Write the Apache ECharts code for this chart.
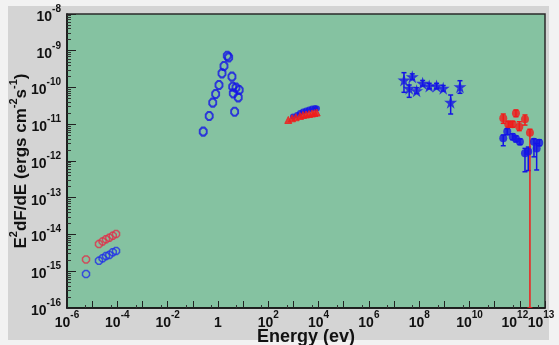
<!DOCTYPE html>
<html>
<head>
<meta charset="utf-8">
<script src="https://cdn.jsdelivr.net/npm/echarts@6/dist/echarts.min.js"></script>
<style>
  html, body { margin: 0; padding: 0; background: #f2f2f2; }
  #chart { width: 559px; height: 345px; }
</style>
</head>
<body>
<div id="chart"></div>
<script>
// radio
const radioX = [5.7e-6, 1.87e-5, 2.6e-5, 3.55e-5, 4.8e-5, 6.6e-5, 8.9e-5];
const radioRedY = [2.1e-15, 5.5e-15, 6.5e-15, 7.4e-15, 8.2e-15, 9.3e-15, 1.03e-14];
const radioBlueY = [8.4e-16, 1.94e-15, 2.25e-15, 2.6e-15, 2.77e-15, 3.3e-15, 3.56e-15];

// optical / UV
const optX = [0.26, 0.45, 0.62, 0.81, 1.1, 1.45, 1.74, 2.35, 2.67, 3.6, 3.85, 5.2, 7.0, 4.07, 6.4, 4.6];
const optY = [6.3e-12, 1.68e-11, 3.86e-11, 6.65e-11, 1.17e-10, 2.43e-10, 3.85e-10, 7.3e-10, 6.6e-10,
              1.97e-10, 1.05e-10, 9.9e-11, 8.55e-11, 6.95e-11, 5.4e-11, 2.19e-11];

// x-ray
const xrayRedX = [625, 877, 1230, 1824, 2400, 3155, 4150, 5470, 6870, 8400];
const xrayRedY = [1.31e-11, 1.45e-11, 1.55e-11, 1.68e-11, 1.79e-11, 1.84e-11, 1.9e-11, 1.96e-11, 2.02e-11, 2.09e-11];
const xrayBlueX = [960, 1384, 1824, 2400, 3155, 4150, 5470, 7190, 8630];
const xrayBlueY = [1.63e-11, 1.79e-11, 2.02e-11, 2.22e-11, 2.37e-11, 2.52e-11, 2.68e-11, 2.77e-11, 2.68e-11];

// gamma (GeV)
const fermiX = [2.48e7, 5.3e7, 4.0e7, 7.9e7, 1.37e8, 2.5e8, 4.9e8, 9.0e8, 1.78e9, 4.17e9];
const fermiY = [1.6e-10, 1.97e-10, 9.5e-11, 8.2e-11, 1.3e-10, 1.1e-10, 1.1e-10, 9.5e-11, 3.95e-11, 1.05e-10];
const fermiLo = [7.4e-11, 1.65e-10, 5.4e-11, 6.9e-11, 1.1e-10, 9.2e-11, 9.2e-11, 8e-11, 1.9e-11, 6.95e-11];
const fermiHi = [2.53e-10, 2.35e-10, 1.17e-10, 9.8e-11, 1.55e-10, 1.3e-10, 1.3e-10, 1.13e-10, 6.25e-11, 1.53e-10];

// TeV
const tevRedX = [2.19e11, 7.0e11, 3.47e11, 5.2e11, 9.5e11, 1.6e12, 2.52e12];
const tevRedY = [1.45e-11, 1.99e-11, 9.97e-12, 9.97e-12, 8.6e-12, 1.36e-11, 5.9e-12];
const tevRedLo = [1.06e-11, 1.6e-11, 8.3e-12, 8.3e-12, 6.7e-12, 9.5e-12, 1e-16];
const tevRedHi = [1.9e-11, 2.44e-11, 1.2e-11, 1.2e-11, 1.17e-11, 1.79e-11, 7.3e-12];
const tevBlueX = [2.19e11, 3.16e11, 5.2e11, 7.0e11, 1.01e12, 1.6e12, 2.16e12, 3.64e12, 5.9e12, 4.66e12];
const tevBlueY = [4.15e-12, 6.3e-12, 4.6e-12, 4.0e-12, 3.35e-12, 1.62e-12, 1.8e-12, 3.35e-12, 3.15e-12, 2.2e-12];
const tevBlueLo = [2.6e-12, 5.2e-12, 3.8e-12, 3.3e-12, 2.8e-12, 5.1e-13, 5.5e-13, 1.3e-12, 2.6e-12, 5.7e-13];
const tevBlueHi = [5.1e-12, 7.6e-12, 5.5e-12, 4.8e-12, 4.0e-12, 2.2e-12, 2.4e-12, 4.0e-12, 3.8e-12, 3.0e-12];

// axis labels (exponents shown); the last one sits on its own overlay axis
const xLabelExp = [-6, -4, -2, 0, 2, 4, 6, 8, 10, 12];
const xLastExp = 13;

const BLUE = '#1414e6';
const RED = '#f01c1c';
const STAR = 'path://M50,0 L61,35 L98,35 L68,57 L79,91 L50,70 L21,91 L32,57 L2,35 L39,35 Z';
const OCT = 'path://M30,0 L70,0 L100,30 L100,70 L70,100 L30,100 L0,70 L0,30 Z';
const FONT = '"Liberation Sans", Arial, sans-serif';

const pts = (xs, ys) => xs.map((x, i) => [x, ys[i]]);

function errBars(xs, ys, lo, hi, color) {
  return {
    type: 'custom',
    clip: true,
    z: 1,
    data: xs.map((x, i) => [x, ys[i], lo[i], hi[i]]),
    encode: { x: 0, y: 1 },
    renderItem: function (params, api) {
      const a = api.coord([api.value(0), api.value(2)]);
      const b = api.coord([api.value(0), api.value(3)]);
      const st = { stroke: color, lineWidth: 1.5 };
      return {
        type: 'group',
        children: [
          { type: 'line', shape: { x1: a[0], y1: a[1], x2: b[0], y2: b[1] }, style: st },
          { type: 'line', shape: { x1: a[0] - 2.5, y1: a[1], x2: a[0] + 2.5, y2: a[1] }, style: st },
          { type: 'line', shape: { x1: b[0] - 2.5, y1: b[1], x2: b[0] + 2.5, y2: b[1] }, style: st }
        ]
      };
    }
  };
}

function expOf(v) { return Math.round(Math.log10(v)); }

function expLabel(v) {
  const e = expOf(v);
  if (e === 0) return '{b|1}';
  return '{b|10}{s|' + e + '}';
}

const richLab = {
  b: { fontSize: 14, fontWeight: 'bold', fontFamily: FONT, color: '#111', lineHeight: 20, verticalAlign: 'bottom' },
  s: { fontSize: 10, fontWeight: 'bold', fontFamily: FONT, color: '#111', lineHeight: 20, verticalAlign: 'top' },
  p10: { width: 10 },
  p8: { width: 8 }
};

const logX = { type: 'log', logBase: 10, min: 1e-6, max: 1e13, interval: 1 };

const chart = echarts.init(document.getElementById('chart'));
chart.setOption({
  animation: false,
  backgroundColor: '#f2f2f2',
  graphic: [
    { type: 'rect', shape: { x: 8, y: 6, width: 541, height: 334 }, style: { fill: '#d4d4d4' }, z: -10 }
  ],
  grid: {
    left: 67, right: 14, top: 14, bottom: 37,
    outerBoundsMode: 'none',
    containLabel: false,
    show: true,
    backgroundColor: '#85c2a1',
    borderColor: '#2a2a2a',
    borderWidth: 1.5
  },
  xAxis: [
    Object.assign({}, logX, {
      name: 'Energy (ev)',
      nameLocation: 'middle',
      nameGap: 20,
      nameMoveOverlap: false,
      nameTextStyle: { fontSize: 18, fontWeight: 'bold', fontFamily: FONT, color: '#111' },
      axisLine: { lineStyle: { color: '#111', width: 1.5 } },
      axisTick: { inside: true, length: 7, lineStyle: { color: '#222' } },
      minorTick: { show: true, splitNumber: 2, length: 3, lineStyle: { color: '#333' } },
      splitLine: { show: false },
      axisLabel: {
        margin: 2,
        interval: 0,
        hideOverlap: false,
        showMinLabel: true,
        formatter: function (v) {
          const e = expOf(v);
          if (xLabelExp.indexOf(e) < 0) return '';
          if (e === 12) return expLabel(v) + '{p10|}';
          return expLabel(v);
        },
        rich: richLab
      }
    }),
    Object.assign({}, logX, {
      position: 'bottom',
      axisLine: { show: false },
      axisTick: { show: false },
      splitLine: { show: false },
      axisLabel: {
        margin: 2,
        interval: 0,
        showMaxLabel: true,
        formatter: function (v) {
          return expOf(v) === xLastExp ? expLabel(v) + '{p8|}' : '';
        },
        rich: richLab
      }
    })
  ],
  yAxis: {
    type: 'log',
    logBase: 10,
    min: 1e-16,
    max: 1e-8,
    interval: 1,
    name: '{n|E}{s|2}{n|dF/dE (ergs cm}{s|-2}{n|s}{s|-1}{n|)}',
    nameLocation: 'middle',
    nameGap: 37,
    nameMoveOverlap: false,
    nameTextStyle: {
      rich: {
        n: { fontSize: 17, fontWeight: 'bold', fontFamily: FONT, color: '#111', lineHeight: 22, verticalAlign: 'bottom' },
        s: { fontSize: 11, fontWeight: 'bold', fontFamily: FONT, color: '#111', lineHeight: 22, verticalAlign: 'top' }
      }
    },
    axisLine: { lineStyle: { color: '#111', width: 1.5 } },
    axisTick: { inside: true, length: 9, lineStyle: { color: '#222' } },
    minorTick: { show: true, splitNumber: 9, length: 4, lineStyle: { color: '#333' } },
    splitLine: { show: false },
    axisLabel: {
      margin: 6,
      formatter: expLabel,
      rich: richLab
    }
  },
  series: [
    {
      type: 'scatter', data: pts(radioX, radioRedY),
      symbol: OCT, symbolSize: 7,
      itemStyle: { color: 'transparent', borderColor: '#e0304a', borderWidth: 1.5 }
    },
    {
      type: 'scatter', data: pts(radioX, radioBlueY),
      symbol: OCT, symbolSize: 7,
      itemStyle: { color: 'transparent', borderColor: '#2030e8', borderWidth: 1.5 }
    },
    {
      type: 'scatter', data: pts(optX, optY),
      symbol: OCT, symbolSize: [7, 8],
      itemStyle: { color: 'transparent', borderColor: BLUE, borderWidth: 2 }
    },
    {
      type: 'scatter', data: pts(xrayBlueX, xrayBlueY),
      symbol: 'circle', symbolSize: 6,
      itemStyle: { color: BLUE }
    },
    {
      type: 'scatter', data: pts(xrayRedX, xrayRedY),
      symbol: 'triangle', symbolSize: 7,
      itemStyle: { color: RED, borderColor: RED, borderWidth: 1 }
    },
    errBars(fermiX, fermiY, fermiLo, fermiHi, BLUE),
    {
      type: 'scatter', data: pts(fermiX, fermiY),
      symbol: STAR, symbolSize: 13,
      itemStyle: { color: BLUE }
    },
    errBars(tevBlueX, tevBlueY, tevBlueLo, tevBlueHi, BLUE),
    {
      type: 'scatter', data: pts(tevBlueX, tevBlueY),
      symbol: 'circle', symbolSize: 8,
      itemStyle: { color: BLUE }
    },
    errBars(tevRedX, tevRedY, tevRedLo, tevRedHi, RED),
    {
      type: 'scatter', data: pts(tevRedX, tevRedY),
      symbol: 'circle', symbolSize: 8,
      itemStyle: { color: RED }
    }
  ]
});
</script>
</body>
</html>
